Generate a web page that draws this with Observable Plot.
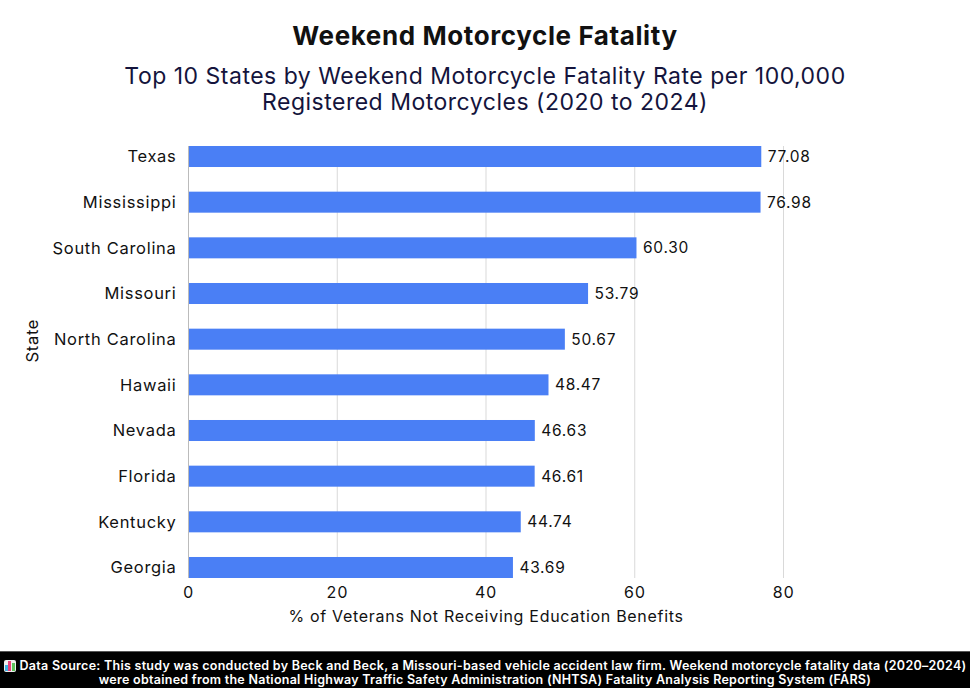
<!DOCTYPE html>
<html>
<head>
<meta charset="utf-8">
<script src="https://cdn.jsdelivr.net/npm/d3@7"></script>
<script src="https://cdn.jsdelivr.net/npm/@observablehq/plot@0.6"></script>
<style>
  html, body { margin: 0; padding: 0; background: #fff; width: 970px; height: 688px; overflow: hidden; font-family: Inter, "Noto Sans", sans-serif; }
  #title { position: absolute; top: 19px; left: 0; width: 970px; text-align: center; font-size: 26px; font-weight: 700; color: #111; line-height: 34px; letter-spacing: 0.6px; }
  #subtitle { position: absolute; top: 63px; left: 0; width: 970px; text-align: center; font-size: 23px; font-weight: 400; color: #14143c; line-height: 26px; letter-spacing: 0.5px; }
  #chart { position: absolute; top: 120px; left: 0; }
  #chart svg text { letter-spacing: 0.7px; }
  #footer { position: absolute; top: 651px; left: 0; width: 970px; height: 37px; background: #000; border-top: 1px solid #555; box-sizing: border-box; color: #fff; font-size: 12.5px; font-weight: 600; text-align: center; line-height: 14px; padding-top: 7px; white-space: nowrap; letter-spacing: 0.27px; }
  .icon { display: inline-block; width: 12px; height: 12px; background: #eee; border-radius: 2px; vertical-align: -2px; position: relative; margin-right: 4px; }
  .icon i { position: absolute; bottom: 1px; width: 3px; }
</style>
</head>
<body>
<div id="title">Weekend Motorcycle Fatality</div>
<div id="subtitle">Top 10 States by Weekend Motorcycle Fatality Rate per 100,000<br>Registered Motorcycles (2020 to 2024)</div>
<div id="chart"></div>
<div id="footer"><span class="icon"><i style="left:1px;height:6px;background:#3fb0e0"></i><i style="left:4.5px;height:10px;background:#e8407a"></i><i style="left:8px;height:8px;background:#5cc35c"></i></span>Data Source: This study was conducted by Beck and Beck, a Missouri-based vehicle accident law firm. Weekend motorcycle fatality data (2020–2024)<br>were obtained from the National Highway Traffic Safety Administration (NHTSA) Fatality Analysis Reporting System (FARS)</div>
<script>
const states = ["Texas", "Mississippi", "South Carolina", "Missouri", "North Carolina", "Hawaii", "Nevada", "Florida", "Kentucky", "Georgia"];
const rates = [77.08, 76.98, 60.30, 53.79, 50.67, 48.47, 46.63, 46.61, 44.74, 43.69];
const xTicks = [0, 20, 40, 60, 80];

const data = states.map((s, i) => ({state: s, rate: rates[i]}));

const chart = Plot.plot({
  width: 970,
  height: 530,
  marginTop: 26,
  marginBottom: 72,
  marginLeft: 188,
  marginRight: 187,
  style: {fontFamily: "Inter, 'Noto Sans', sans-serif", fontSize: "15px", color: "#111", background: "#fff"},
  x: {domain: [0, 80], ticks: xTicks, label: null},
  y: {domain: states, paddingInner: 0.54, paddingOuter: 0, round: false, label: null},
  marks: [
    Plot.gridX(xTicks, {stroke: "#d9d9d9", strokeOpacity: 1, strokeWidth: 1}),
    Plot.barX(data, {y: "state", x: "rate", fill: "#4a7ff5"}),
    Plot.ruleX([0], {stroke: "#bbb", strokeWidth: 1}),
    Plot.text(data, {y: "state", x: "rate", text: d => d.rate.toFixed(2), textAnchor: "start", dx: 6, fontSize: 15.5, fill: "#111"}),
    Plot.axisX(xTicks, {tickSize: 0, tickPadding: 8, fontSize: 16, fill: "#111", label: null}),
    Plot.axisY({tickSize: 0, tickPadding: 12, fontSize: 16.5, fill: "#111", label: null}),
    Plot.text(["% of Veterans Not Receiving Education Benefits"], {frameAnchor: "bottom", dy: 43, fontSize: 16, fill: "#111"}),
    Plot.text(["State"], {frameAnchor: "left", dx: -156, rotate: -90, fontSize: 16.5, fill: "#111"})
  ]
});
document.getElementById("chart").appendChild(chart);
</script>
</body>
</html>
